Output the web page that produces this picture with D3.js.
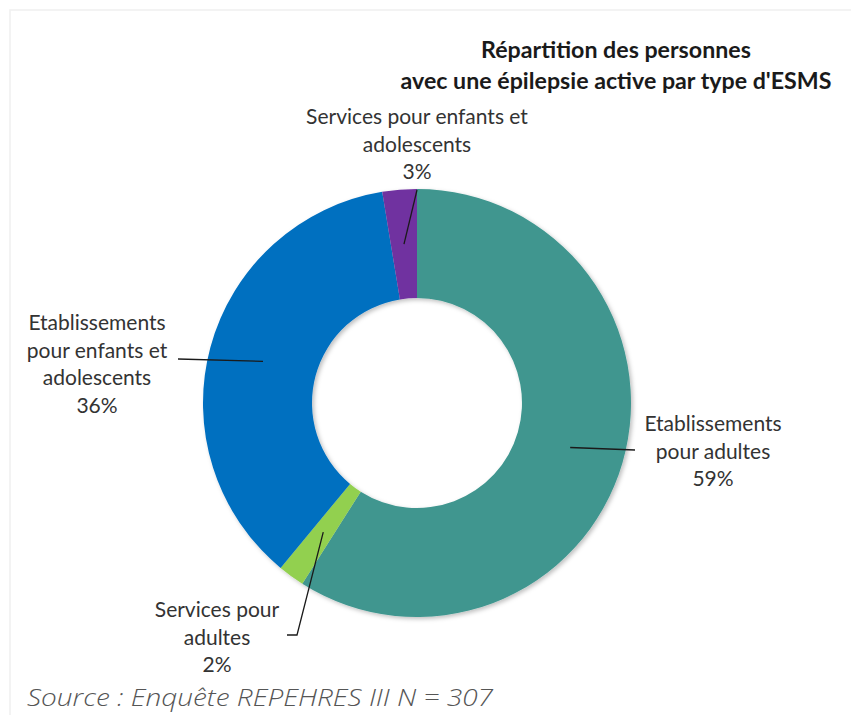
<!DOCTYPE html>
<html><head><meta charset="utf-8">
<script src="https://cdn.jsdelivr.net/npm/d3@7"></script>
<style>
body{margin:0;background:#fff;}
svg{display:block;}
</style></head>
<body><svg id="c" width="851" height="715"></svg>
<script>
const categories = ["Etablissements pour adultes", "Services pour adultes", "Etablissements pour enfants et adolescents", "Services pour enfants et adolescents"];
const values = [59.0, 2.0, 36.4, 2.6];
const colors = ["#3F968F", "#92D050", "#0070C0", "#7030A0"];
const labelLines = [["Etablissements", "pour adultes"], ["Services pour", "adultes"], ["Etablissements", "pour enfants et", "adolescents"], ["Services pour enfants et", "adolescents"]];
const titleLines = ["Répartition des personnes", "avec une épilepsie active par type d'ESMS"];
const sourceText = "Source : Enquête REPEHRES III N = 307";

const svg = d3.select("#c");
const defs = svg.append("defs");
const f = defs.append("filter").attr("id","sh").attr("x","-10%").attr("y","-10%").attr("width","125%").attr("height","125%");
f.append("feDropShadow").attr("dx",2).attr("dy",2).attr("stdDeviation",2).attr("flood-color","#000").attr("flood-opacity",0.25);

// faint panel
svg.append("rect").attr("x",10).attr("y",10).attr("width",851).attr("height",720)
  .attr("fill","#fff").attr("stroke","#f0f0f0").attr("stroke-width",1.5);

const cx = 417, cy = 403, R = 214, r = 105;
const g = svg.append("g").attr("transform",`translate(${cx},${cy})`);
const pie = d3.pie().sort(null).value(d=>d);
const arcs = pie(values);
const arc = d3.arc().innerRadius(r).outerRadius(R);
const mid = d3.arc().innerRadius(r).outerRadius(R);

g.append("g").attr("filter","url(#sh)").selectAll("path").data(arcs).join("path")
  .attr("d",arc).attr("fill",(d,i)=>colors[i]);

// label layout (positions relative to center)
const labelPos = [
  {x: 296, y: 28, lineEnd: [[218,47]]},
  {x: -200, y: 214, lineEnd: [[-120,232],[-130,232]]},
  {x: -320, y: -73, lineEnd: [[-239,-44]]},
  {x: 0, y: -279, lineEnd: [[0,-213]]}
];
const lh = 27.5;
arcs.forEach((d,i)=>{
  const c = mid.centroid(d);
  const lp = labelPos[i];
  const pts = [c].concat(lp.lineEnd);
  g.append("path").attr("d", d3.line()(pts)).attr("fill","none").attr("stroke","#1a1a1a").attr("stroke-width",1.3);
  const lines = labelLines[i].concat([Math.round(values[i]) + "%"]);
  const t = g.append("text").attr("text-anchor","middle")
    .attr("font-family","Lato, 'Open Sans', sans-serif").attr("font-size",21).attr("fill","#333");
  lines.forEach((s,k)=>{
    t.append("tspan").attr("x",lp.x).attr("y",lp.y + k*lh).text(s);
  });
});

const tt = svg.append("text").attr("text-anchor","middle")
  .attr("font-family","Lato, 'Open Sans', sans-serif").attr("font-weight","bold").attr("font-size",23.2).attr("fill","#1a1a1a");
titleLines.forEach((s,k)=>tt.append("tspan").attr("x",616).attr("y",58+k*31).text(s));

svg.append("text").attr("x",27).attr("y",706)
  .attr("font-family","'Open Sans', sans-serif").attr("font-style","italic").attr("font-weight",300)
  .attr("font-size",24).attr("fill","#555")
  .attr("textLength",466).attr("lengthAdjust","spacingAndGlyphs").text(sourceText);
</script></body></html>
